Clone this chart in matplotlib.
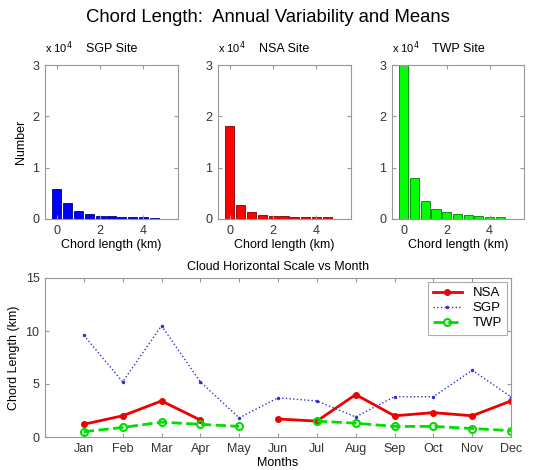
import numpy as np
import matplotlib.pyplot as plt

plt.rcParams['font.family'] = ['Liberation Sans', 'DejaVu Sans']

# histogram bin centres (km) and counts (x 10^4) per site
bins = [0, 0.5, 1.0, 1.5, 2.0, 2.5, 3.0, 3.5, 4.0, 4.5]
sgp_counts = [0.58, 0.31, 0.16, 0.09, 0.06, 0.05, 0.04, 0.03, 0.03, 0.02]
nsa_counts = [1.81, 0.27, 0.13, 0.08, 0.06, 0.05, 0.04, 0.03, 0.03, 0.03]
twp_counts = [3.01, 0.80, 0.35, 0.20, 0.13, 0.09, 0.07, 0.05, 0.04, 0.04]

# monthly mean chord length (km), nan = missing month
months = ['Jan', 'Feb', 'Mar', 'Apr', 'May', 'Jun', 'Jul', 'Aug', 'Sep', 'Oct', 'Nov', 'Dec']
nsa_month = [1.2, 2.0, 3.4, 1.6, np.nan, 1.7, 1.5, 4.0, 2.0, 2.3, 2.0, 3.4]
sgp_month = [9.6, 5.2, 10.5, 5.2, 1.8, 3.7, 3.4, 1.9, 3.8, 3.8, 6.3, 3.8]
twp_month = [0.5, 0.9, 1.4, 1.2, 1.0, np.nan, 1.5, 1.3, 1.0, 1.0, 0.8, 0.6]

W, H = 536, 470
fig = plt.figure(figsize=(W / 100, H / 100), dpi=100)

def px_axes(l, t, r, b):
    return fig.add_axes([l / W, 1 - b / H, (r - l) / W, (b - t) / H])

def style(ax):
    for s in ax.spines.values():
        s.set_color('#999999')
    ax.tick_params(labelsize=9, colors='#999999', labelcolor='#333333',
                   direction='in', length=3, top=True, right=True, pad=4)

fig.text(0.5, 1 - 18 / H, 'Chord Length:  Annual Variability and Means',
         ha='center', va='center', fontsize=13.3)

panels = [
    (45, 178, 'SGP Site', sgp_counts, '#0000ff', '#000080'),
    (218, 351, 'NSA Site', nsa_counts, '#ff0000', '#800000'),
    (392, 524, 'TWP Site', twp_counts, '#00ff00', '#008000'),
]
for l, r, name, counts, fc, ec in panels:
    ax = px_axes(l, 65, r, 219)
    ax.bar(bins, counts, width=0.42, color=fc, edgecolor=ec, linewidth=0.6)
    ax.set_xlim(-0.55, 5.6)
    ax.set_ylim(0, 3)
    ax.set_xticks([0, 2, 4])
    ax.set_yticks([0, 1, 2, 3])
    style(ax)
    ax.set_title(name, fontsize=9, pad=9)
    ax.text(0.0, 1.06, r'x 10$^4$', transform=ax.transAxes, fontsize=8, va='bottom')
    ax.set_xlabel('Chord length (km)', fontsize=9, labelpad=2)
    if name == 'SGP Site':
        ax.set_ylabel('Number', fontsize=9)

ax = px_axes(45, 278, 511, 437)
x = np.arange(1, 13)
ax.plot(x, nsa_month, '-', color='#ee0000', lw=2, marker='o', ms=4, label='NSA')
ax.plot(x, sgp_month, ':', color='#3333cc', lw=1, marker='.', ms=3, label='SGP')
ax.plot(x, twp_month, '--', color='#00dd00', lw=2, marker='o', ms=5,
        mfc='none', mew=1.5, label='TWP')
ax.set_xlim(0, 12)
ax.set_ylim(0, 15)
ax.set_xticks(range(0, 13))
ax.set_xticklabels([''] + months)
ax.set_yticks([0, 5, 10, 15])
style(ax)
ax.set_title('Cloud Horizontal Scale vs Month', fontsize=9, pad=6)
ax.set_xlabel('Months', fontsize=9, labelpad=2)
ax.set_ylabel('Chord Length (km)', fontsize=9)
leg = ax.legend(loc='upper right', fontsize=9.5, fancybox=False, handlelength=2.2,
                borderaxespad=0.3, labelspacing=0.2)
leg.get_frame().set_edgecolor('#999999')
leg.get_frame().set_linewidth(0.8)

fig.savefig('out.png', dpi=100)
